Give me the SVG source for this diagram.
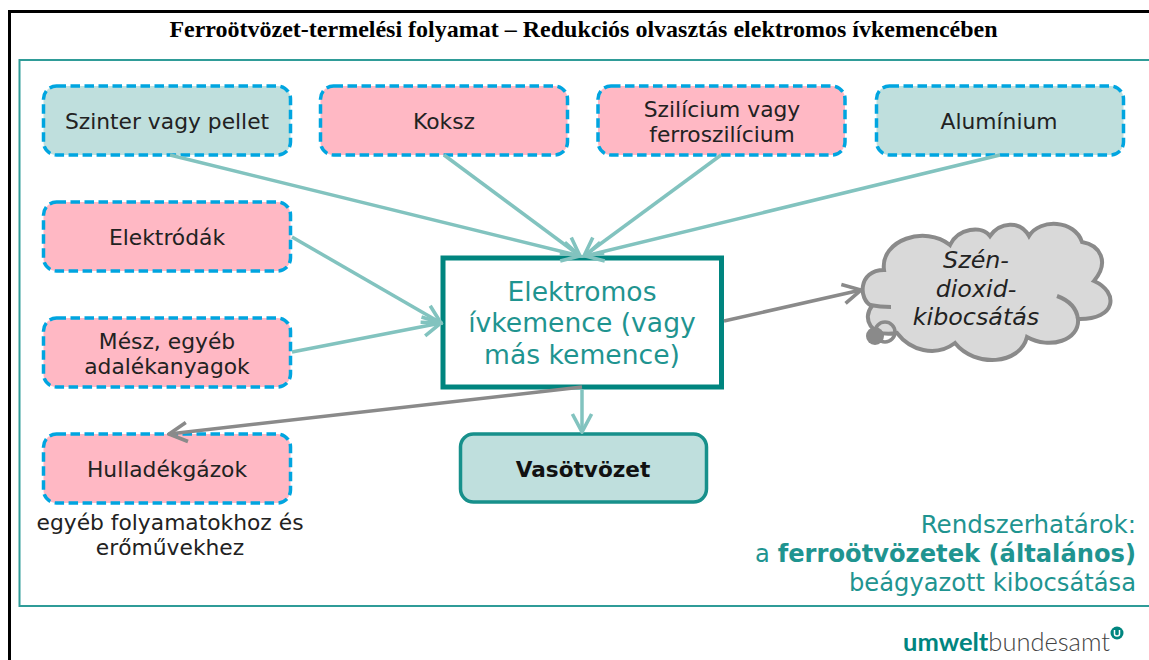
<svg xmlns="http://www.w3.org/2000/svg" width="1149" height="660" viewBox="0 0 1149 660">
<style>
.sans{font-family:"DejaVu Sans",Verdana,sans-serif}
.input{stroke:#00a5e0;stroke-width:3.5;stroke-dasharray:9.5 4.5}
.pink{fill:#ffb8c4}.mint{fill:#bfdfdd}
.lbl{font-size:21.800px;fill:#222;text-anchor:middle}
.tl{font-size:24.200px;fill:#1f9490;text-anchor:end}
.conn{fill:none;stroke:#82c3bf;stroke-width:3.500}
.gconn{fill:none;stroke:#8a8a8a;stroke-width:3.500}
</style>
<defs>
<marker id="t" viewBox="0 0 20 20" refX="18" refY="10" markerWidth="24" markerHeight="24" markerUnits="userSpaceOnUse" orient="auto"><path d="M3 2L18 10L3 18" fill="none" stroke="#82c3bf" stroke-width="3"/></marker>
<marker id="g" viewBox="0 0 20 20" refX="18" refY="10" markerWidth="24" markerHeight="24" markerUnits="userSpaceOnUse" orient="auto"><path d="M3 2L18 10L3 18" fill="none" stroke="#8a8a8a" stroke-width="3"/></marker>
</defs>
<path d="M1149 11.500H9.500V660" fill="none" stroke="#000" stroke-width="3"/>
<text x="583.500" y="37" text-anchor="middle" font-family="Liberation Serif,serif" font-weight="bold" font-size="24" fill="#000">Ferroötvözet-termelési folyamat – Redukciós olvasztás elektromos ívkemencében</text>
<path d="M1149 60H19.500V606H1149" fill="none" stroke="#2f9c98" stroke-width="2"/>
<g id="n-szinter"><rect class="input mint" x="43.500" y="86" width="247" height="69" rx="13"/><text class="sans lbl" x="167" y="129">Szinter vagy pellet</text></g>
<g id="n-koksz"><rect class="input pink" x="320.500" y="86" width="247" height="69" rx="13"/><text class="sans lbl" x="444" y="129">Koksz</text></g>
<g id="n-szilicium"><rect class="input pink" x="598" y="86" width="247" height="69" rx="13"/><text class="sans lbl" x="722" y="117">Szilícium vagy</text><text class="sans lbl" x="722" y="142">ferroszilícium</text></g>
<g id="n-aluminium"><rect class="input mint" x="876.500" y="86" width="247" height="69" rx="13"/><text class="sans lbl" x="999" y="129">Alumínium</text></g>
<g id="n-elektrodak"><rect class="input pink" x="43.500" y="202" width="247" height="69" rx="13"/><text class="sans lbl" x="167" y="245">Elektródák</text></g>
<g id="n-mesz"><rect class="input pink" x="43.500" y="318" width="247" height="69" rx="13"/><text class="sans lbl" x="167" y="349">Mész, egyéb</text><text class="sans lbl" x="167" y="374">adalékanyagok</text></g>
<g id="n-hulladek"><rect class="input pink" x="43.500" y="434" width="247" height="69" rx="13"/><text class="sans lbl" x="167" y="477">Hulladékgázok</text><text class="sans lbl" x="170" y="530">egyéb folyamatokhoz és</text><text class="sans lbl" x="170" y="555">erőművekhez</text></g>
<g id="n-kemence"><rect x="443" y="258" width="278.500" height="129" fill="#fff" stroke="#00857f" stroke-width="5"/>
<text class="sans" x="582" y="301" text-anchor="middle" font-size="26.600" fill="#1f9490">Elektromos</text><text class="sans" x="582" y="332" text-anchor="middle" font-size="26.600" fill="#1f9490">ívkemence (vagy</text><text class="sans" x="582" y="364" text-anchor="middle" font-size="26.600" fill="#1f9490">más kemence)</text></g>
<g id="n-vasotvozet"><rect x="460.500" y="434" width="246" height="68" rx="13" fill="#bfdfdd" stroke="#17908b" stroke-width="3.500"/><text class="sans" x="583" y="477" text-anchor="middle" font-size="21.600" font-weight="bold" fill="#111">Vasötvözet</text></g>
<g id="n-co2">
<path d="M884 270C880 240 925 225 950 245C958 228 982 225 990 236C1000 222 1020 220 1029 236C1040 218 1075 220 1082 242C1100 245 1110 262 1094 281C1119 292 1117 320 1078 319C1080 340 1050 350 1027 337C1020 365 975 368 955 343C935 358 910 350 897 333C870 338 862 318 872 306C858 300 858 270 884 270Z" fill="#d9d9d9" stroke="#8a8a8a" stroke-width="4"/>
<path d="M870 305Q880 307 891 307M1057 296Q1076 303 1078 319" fill="none" stroke="#8a8a8a" stroke-width="4"/>
<circle cx="885" cy="332" r="10" fill="none" stroke="#8a8a8a" stroke-width="3.500"/><circle cx="875" cy="336" r="9" fill="#8a8a8a"/>
<g class="sans" font-size="23.800" font-style="italic" fill="#222" text-anchor="middle"><text x="976" y="268">Szén-</text><text x="976" y="297">dioxid-</text><text x="976" y="325">kibocsátás</text></g></g>
<g id="system-label" class="sans"><text class="tl" x="1136" y="533" style="font-size:24.600px">Rendszerhatárok:</text><text class="tl" x="1136" y="562">a <tspan font-weight="bold">ferroötvözetek (általános)</tspan></text><text class="tl" x="1136" y="591">beágyazott kibocsátása</text></g>
<g id="logo"><text x="903" y="651" font-family="Lato,sans-serif" font-size="25.500"><tspan font-weight="bold" fill="#00857f">umwelt</tspan><tspan font-weight="300" fill="#444">bundesamt</tspan></text><circle cx="1117" cy="633" r="6.500" fill="#00857f"/><path d="M1114.500 630v4q0 2 2.500 2t2.500-2v-4" fill="none" stroke="#fff" stroke-width="1.500"/></g>
<g id="connectors">
<path class="conn" marker-end="url(#t)" d="M170 155L580 256"/>
<path class="conn" marker-end="url(#t)" d="M444 155L580 256"/>
<path class="conn" marker-end="url(#t)" d="M721 155L584 256"/>
<path class="conn" marker-end="url(#t)" d="M1000 155L585 256"/>
<path class="conn" marker-end="url(#t)" d="M292 237L441 323"/>
<path class="conn" marker-end="url(#t)" d="M292 352L441 323"/>
<path class="conn" marker-end="url(#t)" d="M582 389V432"/>
<path class="gconn" marker-end="url(#g)" d="M724 321L861 290"/>
<path class="gconn" marker-end="url(#g)" d="M582 387L169 434"/>
</g>
</svg>
